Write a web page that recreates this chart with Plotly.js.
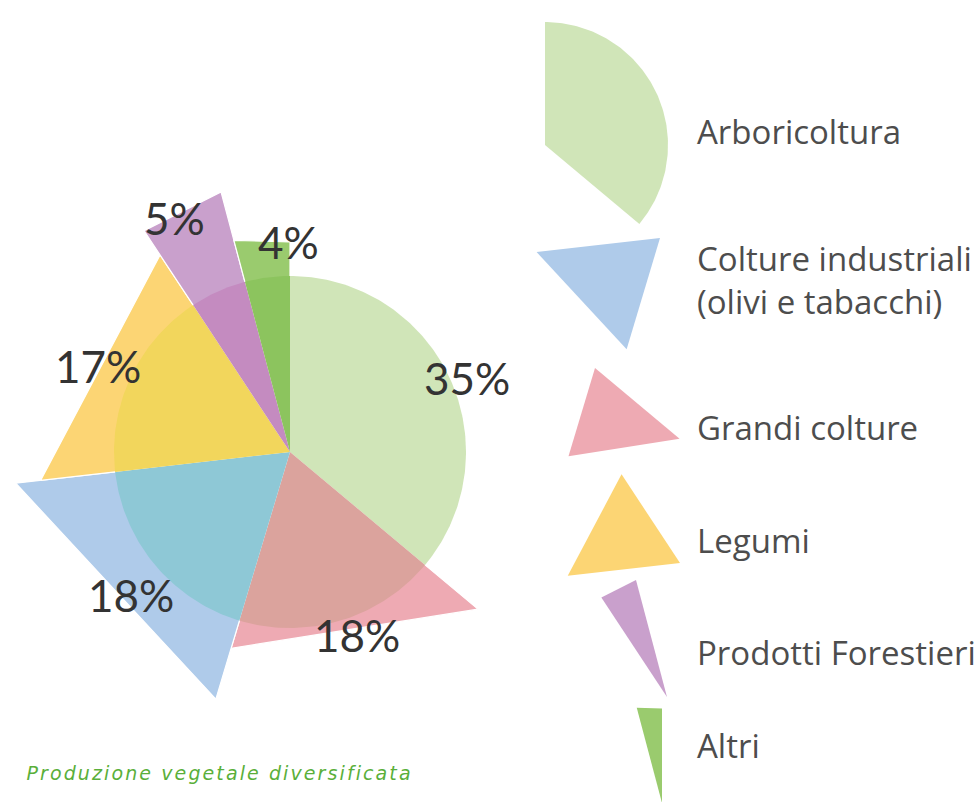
<!DOCTYPE html>
<html><head><meta charset="utf-8">
<script src="https://cdn.plot.ly/plotly-3.0.1.min.js"></script>
<style>html,body{margin:0;padding:0;background:#fff;overflow:hidden}#chart{width:977px;height:802px}</style>
</head><body><div id="chart"></div>
<script>
// ---- data (pie order, clockwise from 12 o'clock) ----
const categories = ['Arboricoltura', 'Grandi colture', 'Colture industriali<br>(olivi e tabacchi)', 'Legumi', 'Prodotti Forestieri', 'Altri'];
const values = [35, 18, 18, 17, 5, 4];
const legendOrder = [0, 2, 1, 3, 4, 5];
const caption = 'Produzione vegetale diversificata';

// ---- styles / layout ----
const outerColors = ['#d0e5b8', '#eeaab3', '#afcbea', '#fcd574', '#c9a0cc', '#9acb6e'];
const innerColors = ['#d0e5b8', '#dba39d', '#8ec8d6', '#f2d65c', '#c48bc0', '#8cc45e'];
const tipRadii = [[0, 0], [245, 205], [258, 276], [251, 236], [265, 269], [219, 210]];
const labelR = [192, 195, 214, 210, 261, 210];
const labelShift = [2.3, -3.4, -2, -1, -2.1, 7];
const CX = 290, CY = 452, R = 176;
const legendScale = 0.45, legendSectorR = 123;
const legendApex = [[545, 145], [595, 368], [660, 238], [680, 563], [667, 697], [662, 803]];
const legendTextY = [131, 427, 280, 540, 652, 745];
const legendTextX = 695;

function pt(cx, cy, r, t) {
  const a = t * Math.PI / 180;
  return [cx + r * Math.sin(a), cy - r * Math.cos(a)];
}
function sector(cx, cy, r, t0, t1) {
  const xs = [cx], ys = [cy];
  const n = Math.max(2, Math.ceil((t1 - t0) / 1));
  for (let k = 0; k <= n; k++) {
    const p = pt(cx, cy, r, t0 + (t1 - t0) * k / n);
    xs.push(p[0]); ys.push(p[1]);
  }
  xs.push(cx); ys.push(cy);
  return [xs, ys];
}
function triangle(cx, cy, r0, r1, t0, t1, s) {
  const a = pt(cx, cy, r0 * s, t0), b = pt(cx, cy, r1 * s, t1);
  return [[cx, a[0], b[0], cx], [cy, a[1], b[1], cy]];
}

const total = values.reduce((a, b) => a + b, 0);
const starts = [], ends = [];
let acc = 0;
values.forEach(v => { starts.push(acc / total * 360); acc += v; ends.push(acc / total * 360); });

const traces = [];
function addShape(xy, color, lineColor, lw) {
  traces.push({type: 'scatter', mode: 'lines', x: xy[0], y: xy[1], fill: 'toself',
    fillcolor: color, line: {color: lineColor, width: lw}, hoverinfo: 'skip', showlegend: false});
}
values.forEach((v, i) => {
  if (i === 0) return;
  addShape(triangle(CX, CY, tipRadii[i][0], tipRadii[i][1], starts[i], ends[i], 1), outerColors[i], '#ffffff', 1.2);
});
values.forEach((v, i) => {
  addShape(sector(CX, CY, R, starts[i], ends[i]), innerColors[i], 'rgba(0,0,0,0)', 0);
});
values.forEach((v, i) => {
  const [ax, ay] = legendApex[i];
  if (i === 0) addShape(sector(ax, ay, legendSectorR, starts[i], ends[i]), outerColors[i], 'rgba(0,0,0,0)', 0);
  else addShape(triangle(ax, ay, tipRadii[i][0], tipRadii[i][1], starts[i], ends[i], legendScale), outerColors[i], 'rgba(0,0,0,0)', 0);
});

const annotations = [];
values.forEach((v, i) => {
  const tm = (starts[i] + ends[i]) / 2 + labelShift[i];
  const p = pt(CX, CY, labelR[i], tm);
  annotations.push({x: p[0], y: p[1], xref: 'x', yref: 'y', text: v + '%', showarrow: false,
    xanchor: 'center', yanchor: 'middle', font: {family: 'Lato, Noto Sans, sans-serif', size: 44, color: '#333333'}});
});
legendOrder.forEach(i => {
  annotations.push({x: legendTextX, y: legendTextY[i], xref: 'x', yref: 'y', text: categories[i], showarrow: false,
    xanchor: 'left', yanchor: 'middle', align: 'left',
    font: {family: 'Open Sans, Lato, sans-serif', size: 33, color: '#4d4d4d'}});
});
annotations.push({x: 219, y: 773, xref: 'x', yref: 'y', text: '<i>' + caption + '</i>', showarrow: false,
  xanchor: 'center', yanchor: 'middle', font: {family: 'DejaVu Sans, sans-serif', size: 19, color: '#5aaf3a'}});

const layout = {
  width: 977, height: 802, margin: {l: 0, r: 0, t: 0, b: 0},
  paper_bgcolor: '#ffffff', plot_bgcolor: '#ffffff', showlegend: false,
  xaxis: {range: [0, 977], visible: false, fixedrange: true},
  yaxis: {range: [802, 0], visible: false, fixedrange: true},
  annotations: annotations
};
Plotly.newPlot('chart', traces, layout, {staticPlot: true}).then(gd => {
  const anns = gd.querySelectorAll('.annotation-text');
  const cap = anns[anns.length - 1];
  if (cap) cap.setAttribute('letter-spacing', '2.1');
});
</script>
</body></html>
